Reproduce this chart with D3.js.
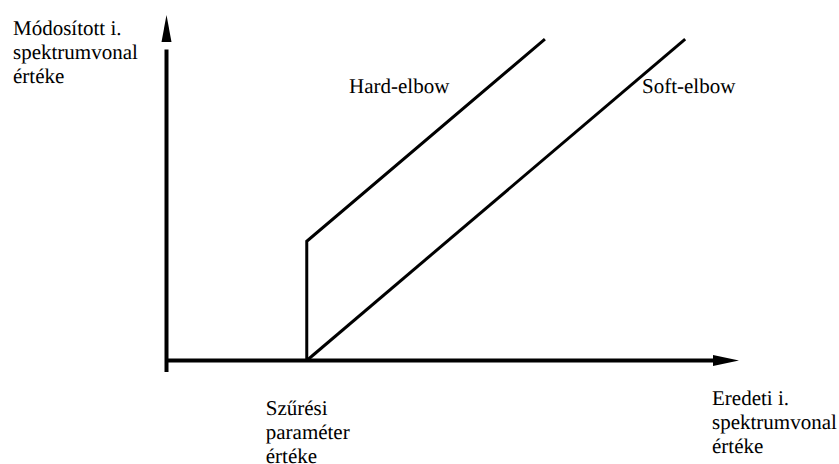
<!DOCTYPE html>
<html>
<head>
<meta charset="utf-8">
<script src="https://cdn.jsdelivr.net/npm/d3@7"></script>
<style>
  body { margin: 0; background: #fff; }
  svg { display: block; }
</style>
</head>
<body>
<svg></svg>
<script>
// threshold (filter parameter) on the x axis
var threshold = 24.5;

// curves as [x, y] in axis units
var hardElbow = [[24.5, 0], [24.5, 34.5], [66.1, 93]];
var softElbow = [[24.5, 0], [90.6, 93]];

// labels
var yLabel = ["Módosított i.", "spektrumvonal", "értéke"];
var xLabel = ["Eredeti i.", "spektrumvonal", "értéke"];
var thresholdLabel = ["Szűrési", "paraméter", "értéke"];
var curveNames = ["Hard-elbow", "Soft-elbow"];

var svgWidth = 839, svgHeight = 464;

var svg = d3.select("svg")
    .attr("width", svgWidth)
    .attr("height", svgHeight);

// scales: x axis from 166 to arrow tip, y axis from 360 up to arrow tip
var xScale = d3.scaleLinear()
    .domain([0, 100])
    .range([166.5, 739]);

var yScale = d3.scaleLinear()
    .domain([0, 100])
    .range([360.5, 15]);

// axes
svg.append("line")
    .attr("x1", xScale(0)).attr("y1", yScale(-3.3))
    .attr("x2", xScale(0)).attr("y2", yScale(90))
    .attr("stroke", "#000").attr("stroke-width", 4);

svg.append("line")
    .attr("x1", xScale(0)).attr("y1", yScale(0))
    .attr("x2", xScale(96)).attr("y2", yScale(0))
    .attr("stroke", "#000").attr("stroke-width", 4);

// arrow heads
svg.append("path")
    .attr("d", "M" + xScale(0) + "," + yScale(100) +
        "L" + (xScale(0) + 5) + "," + (yScale(100) + 27) +
        "L" + (xScale(0) - 5) + "," + (yScale(100) + 27) + "Z")
    .attr("fill", "#000");

svg.append("path")
    .attr("d", "M" + xScale(100) + "," + yScale(0) +
        "L" + (xScale(100) - 26) + "," + (yScale(0) - 5.5) +
        "L" + (xScale(100) - 26) + "," + (yScale(0) + 5.5) + "Z")
    .attr("fill", "#000");

// curves
var line = d3.line()
    .x(function(d) { return xScale(d[0]); })
    .y(function(d) { return yScale(d[1]); });

svg.selectAll(".curve")
    .data([hardElbow, softElbow])
    .enter().append("path")
    .attr("class", "curve")
    .attr("d", line)
    .attr("fill", "none")
    .attr("stroke", "#000")
    .attr("stroke-width", 3)
    .attr("stroke-linejoin", "miter");

// text helpers
function addText(x, y) {
    return svg.append("text")
        .attr("x", x).attr("y", y)
        .style("font-family", "'Liberation Serif'")
        .style("font-size", "21px")
        .style("text-rendering", "geometricPrecision")
        .attr("fill", "#000");
}

function addLabel(lines, x, y) {
    var t = addText(x, y);
    lines.forEach(function(s, i) {
        t.append("tspan").attr("x", x).attr("dy", i === 0 ? 0 : 24).text(s);
    });
}

addLabel(yLabel, 13, 34.5);
addLabel(xLabel, 712, 405);
addLabel(thresholdLabel, xScale(threshold) - 41, 415);

addText(349, 93).text(curveNames[0]);
addText(642, 93).text(curveNames[1]);
</script>
</body>
</html>
